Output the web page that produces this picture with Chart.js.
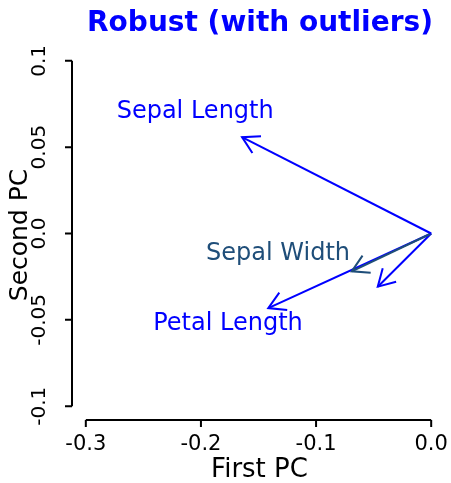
<!DOCTYPE html>
<html>
<head>
<meta charset="utf-8">
<script src="https://cdn.jsdelivr.net/npm/chart.js@4"></script>
<style>
  html, body { margin: 0; padding: 0; background: #fff; }
  #wrap { width: 451px; height: 483px; }
</style>
</head>
<body>
<div id="wrap"><canvas id="chart"></canvas></div>
<script>
// loadings
const variables = ['Sepal Length', 'Sepal Width', 'Petal Length', '']
const firstPC = [-0.1643, -0.069, -0.1415, -0.0464]
const secondPC = [0.0558, -0.0219, -0.0432, -0.0308]
// where the names sit
const labelX = [-0.205, -0.133, -0.1765, 0]
const labelY = [0.0703, -0.0116, -0.0523, 0]
const arrowColors = ['#0000ff', '#1f4e79', '#0000ff', '#0000ff']

const xTicks = [-0.3, -0.2, -0.1, 0.0]
const xTickLabels = ['-0.3', '-0.2', '-0.1', '0.0']
const yTicks = [-0.1, -0.05, 0.0, 0.05, 0.1]
const yTickLabels = ['-0.1', '-0.05', '0.0', '0.05', '0.1']

const FONT = '"DejaVu Sans", sans-serif'

// one dataset per arrow, from origin to loading
const datasets = variables.map((name, i) => ({
    label: name,
    data: [{ x: 0, y: 0 }, { x: firstPC[i], y: secondPC[i] }],
    borderColor: arrowColors[i],
    borderWidth: 2,
    pointRadius: 0,
    showLine: true,
    fill: false
}))

// draws the R style detached axes, arrow heads, labels and titles
const decorations = {
    id: 'decorations',
    afterDatasetsDraw(chart) {
        const ctx = chart.ctx
        const xs = chart.scales.x
        const ys = chart.scales.y
        ctx.save()

        // arrow heads
        datasets.forEach((ds, i) => {
            const x0 = xs.getPixelForValue(0), y0 = ys.getPixelForValue(0)
            const x1 = xs.getPixelForValue(firstPC[i]), y1 = ys.getPixelForValue(secondPC[i])
            const ang = Math.atan2(y1 - y0, x1 - x0)
            const len = 19
            ctx.strokeStyle = arrowColors[i]
            ctx.lineWidth = 2
            ctx.beginPath()
            ctx.moveTo(x1 - len * Math.cos(ang - Math.PI / 6), y1 - len * Math.sin(ang - Math.PI / 6))
            ctx.lineTo(x1, y1)
            ctx.lineTo(x1 - len * Math.cos(ang + Math.PI / 6), y1 - len * Math.sin(ang + Math.PI / 6))
            ctx.stroke()
        })

        // variable names
        ctx.font = '24px ' + FONT
        ctx.textAlign = 'center'
        ctx.textBaseline = 'middle'
        variables.forEach((name, i) => {
            if (!name) return
            ctx.fillStyle = arrowColors[i]
            ctx.fillText(name, xs.getPixelForValue(labelX[i]), ys.getPixelForValue(labelY[i]))
        })

        // x axis
        ctx.strokeStyle = '#000'
        ctx.lineWidth = 2
        const axY = chart.chartArea.bottom
        ctx.beginPath()
        ctx.moveTo(xs.getPixelForValue(xTicks[0]), axY)
        ctx.lineTo(xs.getPixelForValue(xTicks[xTicks.length - 1]), axY)
        xTicks.forEach(t => {
            const px = xs.getPixelForValue(t)
            ctx.moveTo(px, axY)
            ctx.lineTo(px, axY + 7)
        })
        ctx.stroke()
        ctx.fillStyle = '#000'
        ctx.font = '21px ' + FONT
        xTicks.forEach((t, i) => ctx.fillText(xTickLabels[i], xs.getPixelForValue(t), axY + 25))
        ctx.font = '26px ' + FONT
        ctx.fillText('First PC', (chart.chartArea.left + chart.chartArea.right) / 2 + 1, axY + 50)

        // y axis
        const axX = chart.chartArea.left
        ctx.beginPath()
        ctx.moveTo(axX, ys.getPixelForValue(yTicks[0]))
        ctx.lineTo(axX, ys.getPixelForValue(yTicks[yTicks.length - 1]))
        yTicks.forEach(t => {
            const py = ys.getPixelForValue(t)
            ctx.moveTo(axX, py)
            ctx.lineTo(axX - 7, py)
        })
        ctx.stroke()
        ctx.font = '20px ' + FONT
        yTicks.forEach((t, i) => {
            ctx.save()
            ctx.translate(axX - 32, ys.getPixelForValue(t))
            ctx.rotate(-Math.PI / 2)
            ctx.fillText(yTickLabels[i], 0, 0)
            ctx.restore()
        })
        ctx.save()
        ctx.font = '25px ' + FONT
        ctx.translate(axX - 52, 235)
        ctx.rotate(-Math.PI / 2)
        ctx.fillText('Second PC', 0, 0)
        ctx.restore()

        // title
        ctx.fillStyle = '#0000ff'
        ctx.font = 'bold 28px ' + FONT
        ctx.fillText('Robust (with outliers)', 260, 24)

        ctx.restore()
    }
}

new Chart(document.getElementById('chart'), {
    type: 'scatter',
    data: { datasets: datasets },
    options: {
        responsive: true,
        maintainAspectRatio: false,
        animation: false,
        layout: { padding: { left: 72, right: 6, top: 47, bottom: 63 } },
        plugins: {
            legend: { display: false },
            tooltip: { enabled: false },
            title: { display: false }
        },
        scales: {
            x: { type: 'linear', min: -0.312, max: 0.012, display: false },
            y: { type: 'linear', min: -0.108, max: 0.108, display: false }
        }
    },
    plugins: [decorations]
})
</script>
</body>
</html>
